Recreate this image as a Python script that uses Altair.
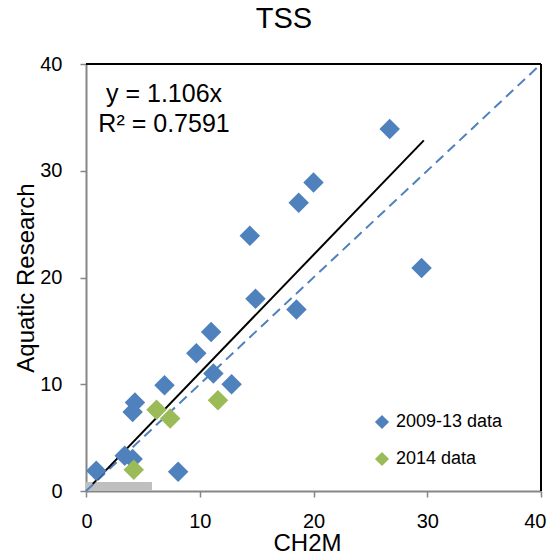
import altair as alt
import pandas as pd

# 2009-13 data (CH2M vs Aquatic Research)
blue_x = [0.9, 3.4, 4.1, 4.1, 4.3, 6.9, 8.1, 9.7, 11.2, 11.0, 12.8, 14.4, 14.9, 18.5, 18.7, 20.0, 26.7, 29.5]
blue_y = [1.9, 3.3, 3.0, 7.4, 8.3, 9.9, 1.8, 12.9, 11.0, 14.9, 10.0, 23.9, 18.0, 17.0, 27.0, 28.9, 33.9, 20.9]
# 2014 data
green_x = [6.2, 7.4, 4.2, 11.6]
green_y = [7.6, 6.8, 2.0, 8.5]

series_names = ["2009-13 data", "2014 data"]
series_colors = ["#4F81BD", "#9BBB59"]

slope = 1.106
r2 = 0.7591
trend_x = [0.6, 29.7]
one_to_one = [0, 40]
gray_box = {"x": 0, "x2": 5.8, "y": 0, "y2": 0.85}
annot_lines = ["y = 1.106x", "R\u00b2 = 0.7591"]
annot_x = [6.86, 6.86]
annot_y = [36.4, 33.6]
title_text = "TSS"

FONT = "Liberation Sans"

pts = pd.DataFrame({
    "x": blue_x + green_x,
    "y": blue_y + green_y,
    "series": [series_names[0]] * len(blue_x) + [series_names[1]] * len(green_x),
})

xs = alt.Scale(domain=[0, 40], nice=False, zero=True)
ys = alt.Scale(domain=[0, 40], nice=False, zero=True)

xaxis = alt.Axis(values=[0, 10, 20, 30, 40], title="CH2M", grid=False,
                 domainColor="#868686", domainWidth=2, tickColor="#868686", tickWidth=1.5,
                 tickSize=6, labelFont=FONT, labelFontSize=20, labelColor="black",
                 labelBaseline="alphabetic", labelPadding=30, labelFlush=True, labelFlushOffset=5,
                 titleFont=FONT, titleFontSize=24, titleFontWeight="normal", titleColor="black",
                 titleBaseline="alphabetic", titleY=59, titleX=221)
yaxis = alt.Axis(values=[0, 10, 20, 30, 40], title="Aquatic Research", grid=False,
                 domainColor="#868686", domainWidth=2, tickColor="#868686", tickWidth=1.5,
                 tickSize=6, labelFont=FONT, labelFontSize=20, labelColor="black",
                 labelPadding=18, labelFlush=False,
                 titleFont=FONT, titleFontSize=24, titleFontWeight="normal", titleColor="black",
                 titleBaseline="alphabetic", titleX=-53)

box = alt.Chart(pd.DataFrame([gray_box])).mark_rect(color="#BFBFBF").encode(
    x=alt.X("x:Q", scale=xs, axis=xaxis), x2="x2:Q",
    y=alt.Y("y:Q", scale=ys, axis=yaxis), y2="y2:Q")

diag = alt.Chart(pd.DataFrame({"x": one_to_one, "y": one_to_one})).mark_line(
    color="#4F81BD", strokeWidth=2, strokeDash=[10, 6]).encode(
    x=alt.X("x:Q", scale=xs), y=alt.Y("y:Q", scale=ys))

trend = alt.Chart(pd.DataFrame({"x": trend_x, "y": [slope * v for v in trend_x]})).mark_line(
    color="black", strokeWidth=2).encode(
    x=alt.X("x:Q", scale=xs), y=alt.Y("y:Q", scale=ys))

points = alt.Chart(pts).mark_point(shape="diamond", filled=True, size=420, opacity=1).encode(
    x=alt.X("x:Q", scale=xs),
    y=alt.Y("y:Q", scale=ys),
    color=alt.Color("series:N", scale=alt.Scale(domain=series_names, range=series_colors),
                    legend=alt.Legend(title=None, orient="none", legendX=287, legendY=349,
                                      symbolType="diamond", symbolSize=200, symbolStrokeWidth=0,
                                      labelFont=FONT, labelFontSize=18, labelColor="black",
                                      labelOffset=5, rowPadding=19, padding=0)))

frame_top = alt.Chart(pd.DataFrame({"x": [0], "x2": [40], "y": [40]})).mark_rule(
    color="black", strokeWidth=2).encode(x=alt.X("x:Q", scale=xs), x2="x2:Q", y=alt.Y("y:Q", scale=ys))
frame_right = alt.Chart(pd.DataFrame({"x": [40], "y": [0], "y2": [40]})).mark_rule(
    color="black", strokeWidth=2).encode(x=alt.X("x:Q", scale=xs), y=alt.Y("y:Q", scale=ys), y2="y2:Q")

annot = alt.Chart(pd.DataFrame({"x": annot_x, "y": annot_y, "t": annot_lines})).mark_text(
    font=FONT, fontSize=25, color="black", align="center", baseline="alphabetic").encode(
    x=alt.X("x:Q", scale=xs), y=alt.Y("y:Q", scale=ys), text="t:N")

title = alt.Chart(pd.DataFrame({"t": [title_text]})).mark_text(
    font=FONT, fontSize=29, color="black", align="center", baseline="alphabetic").encode(
    x=alt.value(198), y=alt.value(-36), text="t:N")

chart = alt.layer(box, diag, trend, points, frame_top, frame_right, annot, title).properties(
    width=455, height=427,
    autosize=alt.AutoSizeParams(type="none"),
    padding={"left": 78, "top": 56, "right": 6, "bottom": 61},
).configure_view(stroke=None)

chart.save("out.html", embed_options={"renderer": "svg", "actions": False})
